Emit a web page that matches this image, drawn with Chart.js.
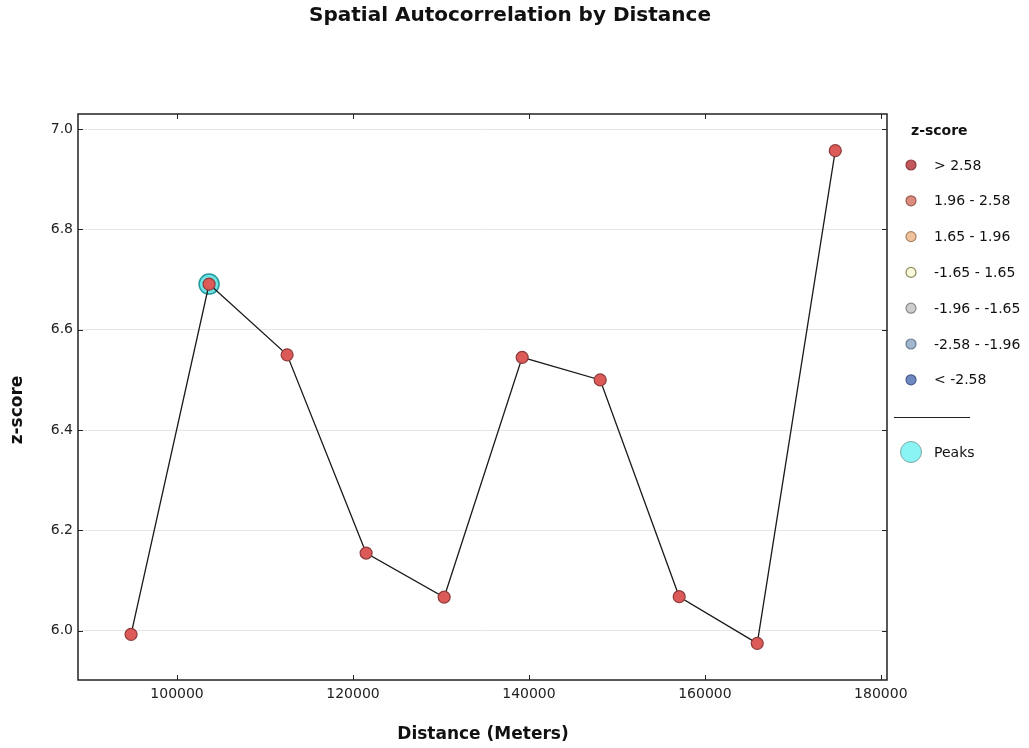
<!DOCTYPE html>
<html>
<head>
<meta charset="utf-8">
<title>Spatial Autocorrelation by Distance</title>
<script src="https://cdn.jsdelivr.net/npm/chart.js@4/dist/chart.umd.min.js"></script>
<style>
  html, body { margin: 0; padding: 0; background: #ffffff; }
  canvas { display: block; }
</style>
</head>
<body>
<canvas id="chart" width="1029" height="748"></canvas>
<script>
// Distance bands (meters) and the z-score measured at each band
const distances = [94770, 103640, 112510, 121490, 130360, 139230, 148100, 157080, 165950, 174820];
const zScores   = [5.993, 6.691, 6.550, 6.155, 6.067, 6.545, 6.500, 6.068, 5.975, 6.957];

// Peak distances and their z-scores
const peakDistances = [103640];
const peakScores    = [6.691];

// Axis tick values
const xTickValues = [100000, 120000, 140000, 160000, 180000];
const yTickValues = [6.0, 6.2, 6.4, 6.6, 6.8, 7.0];

// Legend classes for the z-score symbology
const legendLabels  = ['> 2.58', '1.96 - 2.58', '1.65 - 1.96', '-1.65 - 1.65', '-1.96 - -1.65', '-2.58 - -1.96', '< -2.58'];
const legendFills   = ['#c4575c', '#dc8c7c', '#f1c39d', '#f8f8dc', '#cdcdcd', '#a2b6cf', '#6f88c2'];
const legendStrokes = ['#8c3d40', '#9a5e52', '#a88464', '#8c8c5a', '#8a8a8a', '#6a7d94', '#4a5d8c'];

const FONT = '"DejaVu Sans", "Liberation Sans", sans-serif';

const mainPoints = distances.map((d, i) => ({ x: d, y: zScores[i] }));
const peakPoints = peakDistances.map((d, i) => ({ x: d, y: peakScores[i] }));

// Frame, inward tick marks, titles and the side legend
const decorations = {
  id: 'decorations',
  afterDraw(chart) {
    const ctx = chart.ctx;
    const a = chart.chartArea;
    const xs = chart.scales.x, ys = chart.scales.y;
    ctx.save();

    // plot frame
    ctx.strokeStyle = '#222222';
    ctx.lineWidth = 1.5;
    ctx.strokeRect(a.left, a.top, a.right - a.left, a.bottom - a.top);

    // inward ticks on all four sides
    ctx.lineWidth = 1;
    ctx.beginPath();
    xTickValues.forEach(v => {
      const px = Math.round(xs.getPixelForValue(v)) + 0.5;
      ctx.moveTo(px, a.bottom); ctx.lineTo(px, a.bottom - 5);
      ctx.moveTo(px, a.top); ctx.lineTo(px, a.top + 5);
    });
    yTickValues.forEach(v => {
      const py = Math.round(ys.getPixelForValue(v)) + 0.5;
      ctx.moveTo(a.left, py); ctx.lineTo(a.left + 5, py);
      ctx.moveTo(a.right, py); ctx.lineTo(a.right - 5, py);
    });
    ctx.stroke();

    // chart title
    ctx.fillStyle = '#111111';
    ctx.textAlign = 'center';
    ctx.textBaseline = 'middle';
    ctx.font = 'bold 20px ' + FONT;
    ctx.fillText('Spatial Autocorrelation by Distance', 510, 16);

    // axis titles
    ctx.font = 'bold 17px ' + FONT;
    ctx.fillText('Distance (Meters)', 483, 735);
    ctx.save();
    ctx.translate(18, 410);
    ctx.rotate(-Math.PI / 2);
    ctx.fillText('z-score', 0, 0);
    ctx.restore();

    // legend
    ctx.textAlign = 'left';
    ctx.font = 'bold 14px ' + FONT;
    ctx.fillText('z-score', 911, 131);
    ctx.font = '14px ' + FONT;
    legendLabels.forEach((label, i) => {
      const y = 165 + i * 35.8;
      ctx.beginPath();
      ctx.arc(911, y, 5, 0, Math.PI * 2);
      ctx.fillStyle = legendFills[i];
      ctx.fill();
      ctx.strokeStyle = legendStrokes[i];
      ctx.lineWidth = 1.2;
      ctx.stroke();
      ctx.fillStyle = '#111111';
      ctx.fillText(label, 934, y + 1);
    });
    ctx.beginPath();
    ctx.strokeStyle = '#222222';
    ctx.lineWidth = 1;
    ctx.moveTo(894, 417.5); ctx.lineTo(970, 417.5);
    ctx.stroke();
    ctx.beginPath();
    ctx.arc(911, 452, 10.5, 0, Math.PI * 2);
    ctx.fillStyle = '#8af3f3';
    ctx.fill();
    ctx.strokeStyle = '#7fa8a8';
    ctx.lineWidth = 1;
    ctx.stroke();
    ctx.fillStyle = '#111111';
    ctx.fillText('Peaks', 934, 453);

    ctx.restore();
  }
};

new Chart(document.getElementById('chart'), {
  type: 'scatter',
  data: {
    datasets: [
      {
        label: 'z-score',
        data: mainPoints,
        showLine: true,
        borderColor: '#1a1a1a',
        borderWidth: 1.3,
        pointRadius: 6,
        pointBackgroundColor: '#dc5a58',
        pointBorderColor: '#8e3b3b',
        pointBorderWidth: 1.2,
        order: 0
      },
      {
        label: 'Peaks',
        data: peakPoints,
        showLine: false,
        pointRadius: 10,
        pointBackgroundColor: '#6fe3e6',
        pointBorderColor: '#239a9e',
        pointBorderWidth: 1.5,
        order: 1
      }
    ]
  },
  options: {
    responsive: false,
    animation: false,
    layout: { padding: { top: 114, right: 142, bottom: 0, left: 0 } },
    plugins: {
      legend: { display: false },
      title: { display: false },
      tooltip: { enabled: false }
    },
    scales: {
      x: {
        type: 'linear',
        min: 88740,
        max: 180700,
        afterFit(scale) { scale.height = 68; },
        afterBuildTicks(scale) { scale.ticks = xTickValues.map(v => ({ value: v })); },
        grid: { display: false, drawTicks: false },
        border: { display: false },
        ticks: {
          padding: 6,
          color: '#222222',
          font: { family: FONT, size: 14 },
          callback: v => String(v)
        }
      },
      y: {
        type: 'linear',
        min: 5.902,
        max: 7.03,
        afterFit(scale) { scale.width = 78; },
        afterBuildTicks(scale) { scale.ticks = yTickValues.map(v => ({ value: v })); },
        grid: { color: '#e6e6e6', lineWidth: 1, drawTicks: false },
        border: { display: false },
        ticks: {
          padding: 5,
          color: '#222222',
          font: { family: FONT, size: 14 },
          callback: v => Number(v).toFixed(1)
        }
      }
    }
  },
  plugins: [decorations]
});
</script>
</body>
</html>
